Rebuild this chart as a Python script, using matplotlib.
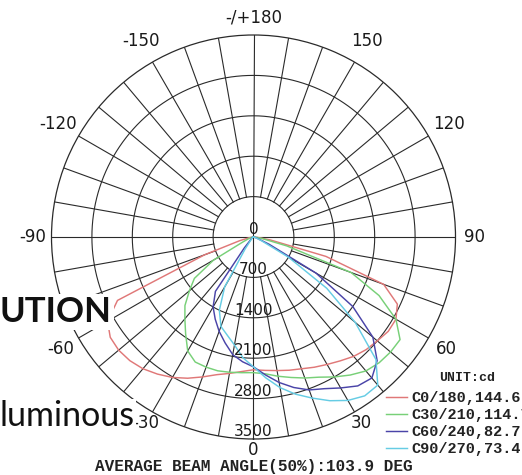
import numpy as np
import matplotlib
matplotlib.use("Agg")
import matplotlib.pyplot as plt

# ---------------- data ----------------
gamma = [-90, -85, -80, -75, -70, -65, -60, -55, -50, -45, -40, -35, -30, -25, -20, -15, -10, -5,
         0, 5, 10, 15, 20, 25, 30, 35, 40, 45, 50, 55, 60, 65, 70, 75, 80, 85, 90]

c0_180 = [0, 20, 80, 250, 900, 2600, 2920, 3030, 3050, 3030, 2980, 2900, 2810, 2700, 2580, 2470, 2400, 2340,
          2300, 2320, 2350, 2390, 2430, 2490, 2550, 2620, 2700, 2760, 2800, 2850, 2850, 2750, 2400, 1300, 300, 60, 0]
c30_210 = [0, 10, 30, 60, 100, 200, 800, 1250, 1450, 1680, 1850, 2050, 2280, 2390, 2400, 2400, 2380, 2360,
           2350, 2380, 2450, 2520, 2600, 2680, 2800, 2920, 3030, 3080, 3100, 3100, 2850, 2400, 1800, 600, 150, 30, 0]
c60_240 = [0, 0, 5, 10, 15, 20, 30, 40, 50, 80, 250, 1150, 1400, 1570, 1740, 1900, 2070, 2170,
           2250, 2400, 2560, 2700, 2820, 2900, 3020, 3150, 3190, 3030, 2700, 2100, 1250, 300, 80, 30, 10, 5, 0]
c90_270 = [0, 0, 5, 10, 10, 15, 20, 30, 40, 50, 80, 250, 1000, 1400, 1650, 1760, 1900, 2100,
           2250, 2450, 2650, 2820, 2970, 3130, 3270, 3360, 3350, 3000, 2300, 1550, 700, 150, 50, 20, 10, 5, 0]

series_labels = ["C0/180,144.6", "C30/210,114.7", "C60/240,82.7", "C90/270,73.4"]
series_colors = ["#e07878", "#78d078", "#4a44a8", "#66cce4"]

ring_values = [700, 1400, 2100, 2800, 3500]
angle_ticks = [0, 30, 60, 90, 120, 150, 180, -150, -120, -90, -60, -30]
angle_tick_labels = ["0", "30", "60", "90", "120", "150", "-/+180", "-150", "-120", "-90", "-60", "-30"]

unit_text = "UNIT:cd"
footer_text = "AVERAGE BEAM ANGLE(50%):103.9 DEG"
overlay_title = "UTION"
overlay_word = "luminous"

# ---------------- layout (pixels) ----------------
W, H = 522, 475
cx, cy, R = 253.5, 237.0, 202.0
label_radius_px = {0: 213, 30: 215, 60: 223, 90: 221, 120: 226, 150: 226, 180: 219}

fig = plt.figure(figsize=(W / 100, H / 100), dpi=100)
fig.patch.set_facecolor("white")

ax = fig.add_axes([(cx - R) / W, (H - cy - R) / H, 2 * R / W, 2 * R / H], projection="polar")
ax.set_theta_zero_location("S")
ax.set_theta_direction(1)
ax.set_ylim(0, ring_values[-1])
ax.grid(False)
ax.set_xticks([])
ax.set_yticks([])
ax.spines["polar"].set_color("#2a2a2a")
ax.spines["polar"].set_linewidth(0.9)
ax.set_facecolor("white")

grid_kw = dict(color="#2a2a2a", lw=0.8, zorder=1)
full = np.linspace(0, 2 * np.pi, 721)
for rv in ring_values[:-1]:
    ax.plot(full, np.full_like(full, rv), **grid_kw)
for a in range(0, 360, 10):
    th = np.deg2rad(a)
    r0 = 0 if a % 90 == 0 else ring_values[0]
    ax.plot([th, th], [r0, ring_values[-1]], **grid_kw)

th = np.deg2rad(gamma)
lines = []
for vals, lab, col in zip([c0_180, c30_210, c60_240, c90_270], series_labels, series_colors):
    ln, = ax.plot(th, vals, color=col, lw=1.05, label=lab, zorder=3)
    lines.append(ln)

# ring labels
ax.text(0, 0, "0", ha="center", va="bottom", fontsize=11, color="#1a1a1a", zorder=4)
for rv in ring_values:
    ax.text(0, rv, str(rv), ha="center", va="bottom", fontsize=11, color="#1a1a1a", zorder=4)

# angle labels
scale = ring_values[-1] / R
for a, lab in zip(angle_ticks, angle_tick_labels):
    rpx = label_radius_px[abs(a)]
    ax.text(np.deg2rad(a), rpx * scale, lab, ha="center", va="center",
            fontsize=12, color="#1a1a1a", clip_on=False, zorder=4)

leg = ax.legend(handles=lines, loc="upper left", bbox_to_anchor=(386 / W, 1 - 391 / H),
                bbox_transform=fig.transFigure, frameon=False, borderaxespad=0.0,
                prop={"family": "Liberation Mono", "size": 11, "weight": "bold"},
                handlelength=1.4, handletextpad=0.25, labelspacing=0.2, borderpad=0.0)
for t in leg.get_texts():
    t.set_color("#222222")

fig.text(467 / W, 1 - 378 / H, unit_text, ha="center", va="center",
         family="Liberation Mono", fontsize=9.5, weight="bold", color="#222222")
fig.text(cx / W, 1 - 466 / H, footer_text, ha="center", va="center",
         family="Liberation Mono", fontsize=11.5, weight="bold", color="#222222")

# background slide text fragments
fig.text(0.0, 1 - 322 / H, overlay_title, ha="left", va="baseline",
         family="Lato", weight="bold", fontsize=25, color="#111111",
         bbox=dict(facecolor="white", edgecolor="none", pad=1.5), zorder=10)
fig.text(0.0, 1 - 426 / H, overlay_word, ha="left", va="baseline",
         family="Lato", fontsize=24.5, color="#111111",
         bbox=dict(facecolor="white", edgecolor="none", pad=0.5), zorder=10)

fig.savefig("out.png", dpi=100, facecolor="white")
